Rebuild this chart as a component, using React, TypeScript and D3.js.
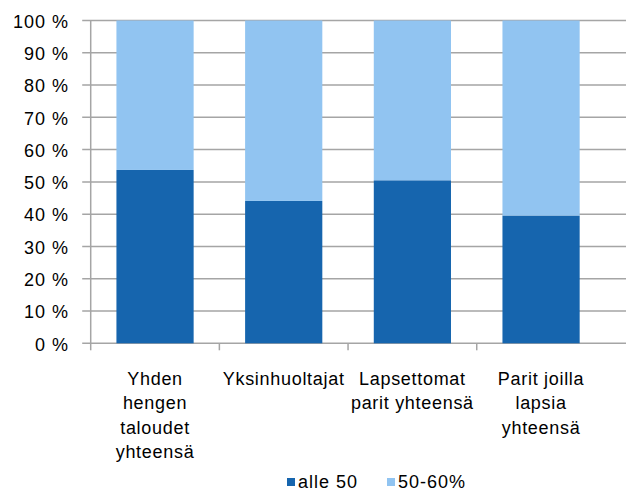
import * as d3 from 'd3';

const WIDTH = 626;
const HEIGHT = 491;
const PLOT = { left: 90.7, right: 605.4, top: 20.5, bottom: 343.3, gridEnd: 626 };

const categories = ['Yhden hengen taloudet yhteensä', 'Yksinhuoltajat', 'Lapsettomat parit yhteensä', 'Parit joilla lapsia yhteensä'];
const categoryLines = [
    ['Yhden', 'hengen', 'taloudet', 'yhteensä'],
    ['Yksinhuoltajat'],
    ['Lapsettomat', 'parit yhteensä'],
    ['Parit joilla', 'lapsia', 'yhteensä'],
];
const seriesNames = ['alle 50', '50-60%'];
const alle50 = [53.7, 44.1, 50.5, 39.6];
const from50to60 = [46.3, 55.9, 49.5, 60.4];
const yTicks = [0, 10, 20, 30, 40, 50, 60, 70, 80, 90, 100];
const COLORS = ['#1665ae', '#91c4f1'];
const FONT = '"Liberation Sans", Arial, sans-serif';

export default function App() {
    const xScale = d3
        .scaleBand()
        .domain(categories)
        .range([PLOT.left, PLOT.right])
        .paddingInner(0.4)
        .paddingOuter(0.2);

    const yScale = d3.scaleLinear().domain([0, 100]).range([PLOT.bottom, PLOT.top]);

    const rows = categories.map((c, i) => ({ c, alle50: alle50[i], from50to60: from50to60[i] }));
    const stacked = d3.stack<any>().keys(['alle50', 'from50to60'])(rows);

    const step = xScale.step();

    // gridlines + y labels
    const grid = yTicks.map((t) => (
        <g key={t}>
            <line
                x1={PLOT.left - 8.5}
                x2={PLOT.gridEnd}
                y1={yScale(t)}
                y2={yScale(t)}
                stroke="#a5a5a5"
                strokeWidth={1.5}
            />
            <text
                x={69}
                y={yScale(t)}
                dy="0.4em"
                textAnchor="end"
                fontSize={18}
                fontFamily={FONT}
                letterSpacing={1}
                fill="#000"
            >
                {t} %
            </text>
        </g>
    ));

    const bars = stacked.map((s, si) => (
        <g key={si}>
            {s.map((d, i) => (
                <rect
                    key={i}
                    x={xScale(categories[i])}
                    y={yScale(d[1])}
                    width={xScale.bandwidth()}
                    height={yScale(d[0]) - yScale(d[1])}
                    fill={COLORS[si]}
                />
            ))}
        </g>
    ));

    const xTicks = categories.map((c, i) => {
        const x0 = (xScale(c) ?? 0) - step * 0.2;
        return <line key={i} x1={x0} x2={x0} y1={PLOT.bottom} y2={PLOT.bottom + 7} stroke="#a5a5a5" strokeWidth={1.5} />;
    });

    const xLabels = categories.map((c, i) => {
        const cx = (xScale(c) ?? 0) + xScale.bandwidth() / 2;
        return (
            <text key={i} textAnchor="middle" fontSize={18} fontFamily={FONT} letterSpacing={0.7} fill="#000">
                {categoryLines[i].map((l, j) => (
                    <tspan key={j} x={cx} y={385 + j * 24.3}>
                        {l}
                    </tspan>
                ))}
            </text>
        );
    });

    const legendX = [287, 387];
    const legend = seriesNames.map((n, i) => (
        <g key={n} transform={`translate(${legendX[i]},482)`}>
            <rect x={0} y={-4} width={8} height={8} fill={COLORS[i]} />
            <text x={11} y={0} dy="0.36em" fontSize={18} fontFamily={FONT} letterSpacing={1} fill="#000">
                {n}
            </text>
        </g>
    ));

    return (
        <svg width={WIDTH} height={HEIGHT} style={{ position: 'absolute', left: 0, top: 0, background: '#fff' }}>
            {grid}
            {bars}
            <line x1={PLOT.left} x2={PLOT.left} y1={PLOT.top} y2={PLOT.bottom} stroke="#a5a5a5" strokeWidth={1.5} />
            {xTicks}
            {xLabels}
            {legend}
        </svg>
    );
}
